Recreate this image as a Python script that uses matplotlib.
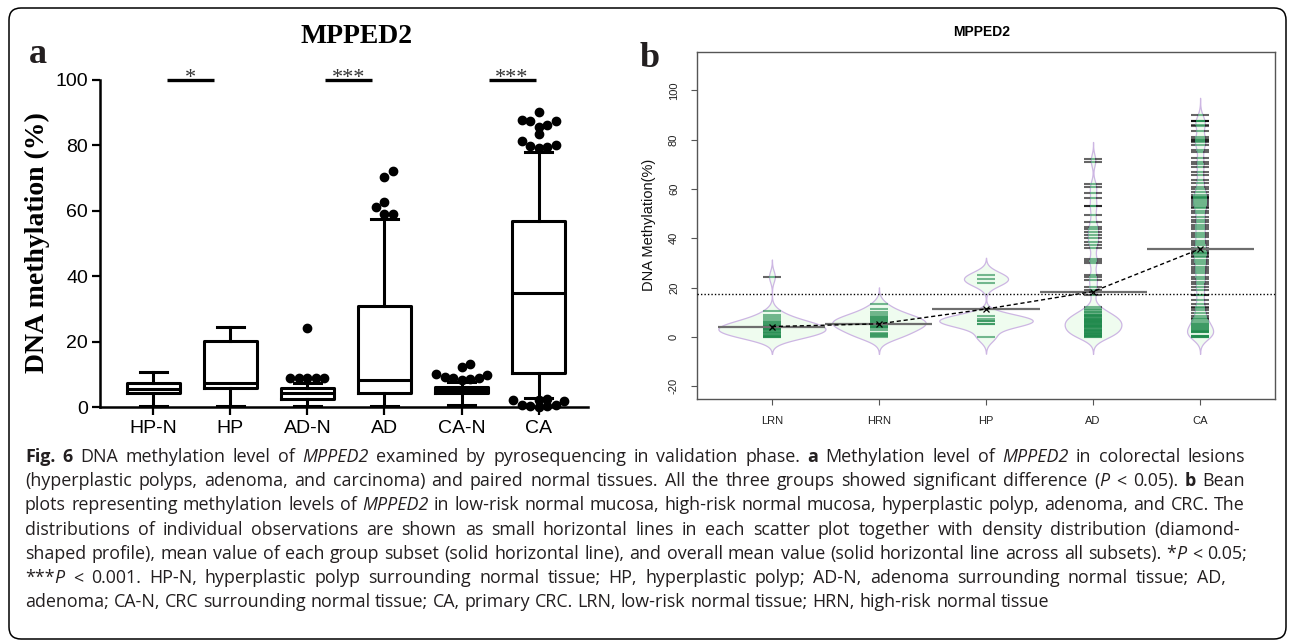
import numpy as np
import matplotlib
matplotlib.use("Agg")
import matplotlib.pyplot as plt
from matplotlib.patches import FancyBboxPatch
from matplotlib.collections import LineCollection
from matplotlib.transforms import IdentityTransform

# ---------------- Panel a data (box plots) ----------------
a_groups = ["HP-N", "HP", "AD-N", "AD", "CA-N", "CA"]
a_whislo = [0.3, 0.3, 0.3, 0.3, 0.6, 2.6]
a_q1 = [4.2, 5.9, 2.5, 4.4, 4.2, 10.3]
a_med = [5.4, 7.4, 4.2, 8.3, 5.2, 34.8]
a_q3 = [7.3, 20.3, 5.8, 30.9, 6.2, 56.8]
a_whishi = [10.8, 24.6, 7.3, 57.5, 7.6, 77.9]
a_fliers = [
    [],
    [],
    [8.8, 8.8, 8.8, 8.8, 8.8, 24.2],
    [59.1, 59.1, 61.2, 62.6, 70.2, 72.3],
    [8.4, 8.6, 8.8, 9.0, 9.1, 9.8, 10.1, 12.2, 13.2],
    [0.0, 0.2, 0.3, 0.5, 0.6, 1.9, 2.0, 2.2, 2.4,
     79.2, 79.5, 79.9, 80.1, 81.3, 83.5, 85.7, 86.1, 87.4, 87.4, 87.7, 90.1],
]
sig_labels = ["*", "***", "***"]
sig_level = 100

# ---------------- Panel b data (bean plots) ----------------
b_groups = ["LRN", "HRN", "HP", "AD", "CA"]
LRN = [0, 0, 0, 0.3, 0.5, 0.8, 1.0, 1.5, 2.0, 2.1, 2.6, 3.0, 3.1, 3.3, 3.6, 3.8,
       4.0, 4.1, 4.3, 4.6, 5.0, 5.2, 5.6, 6.1, 6.5, 7.1, 8.0, 8.9, 10.4, 24.5]
HRN = [0, 0.2, 0.6, 1.1, 1.4, 3.0, 3.6, 3.9, 4.2, 4.6, 5.0, 5.3, 5.7, 6.1, 6.4,
       6.8, 7.2, 7.7, 8.1, 8.6, 9.1, 10.0, 11.5, 13.2]
HP = [0.1, 5.3, 5.4, 6.5, 6.6, 7.4, 8.5, 21.9, 23.5, 25.2]
AD = [72.2, 71.1, 61.9, 61.0, 58.5, 56.3, 53.3, 53.0, 49.5, 46.8, 44.7, 43.7,
      42.5, 41.4, 40.0, 38.7, 37.3, 36.0, 31.6, 30.9, 30.1, 25.2, 24.2, 23.1,
      20.4, 19.1, 17.0,
      12.3, 11.4, 11.0, 10.2, 9.9, 9.4, 9.0, 8.9, 8.5, 8.3, 8.1, 7.8, 7.4, 7.3,
      6.9, 6.6, 6.4, 6.0, 5.8, 5.7, 5.4, 5.0, 4.8, 4.6, 4.5, 4.3, 4.0, 3.9, 3.5,
      3.3, 3.0, 2.8, 2.5, 2.2, 2.0, 1.7, 1.5, 1.2, 1.0, 0.8, 0.5, 0.4, 0.2, 0.0,
      0.0, 6.2, 7.0]
CA = [0.0, 0.0, 0.1, 0.2, 0.3, 0.4, 0.5, 1.8, 2.0, 2.1, 2.2, 2.4, 2.6, 3.1, 3.8,
      4.2, 4.6, 4.9, 5.3, 5.8, 6.4, 7.1, 7.7, 8.4, 9.8,
      10.8, 11.6, 12.3, 13.4, 15.0, 16.9, 17.2, 19.1, 20.3, 21.6, 22.4, 23.3,
      24.5, 26.0, 26.8, 27.7, 28.2, 29.6, 30.4, 31.1, 32.3, 32.9, 33.6, 34.2, 34.6,
      35.3, 36.0, 37.4, 38.0, 38.9, 40.4, 41.3, 42.1, 43.6, 44.7, 45.2, 46.8,
      47.3, 48.6, 50.3, 50.9, 52.2, 52.9, 53.6, 54.4, 55.0, 55.9, 56.2, 56.6, 56.8,
      57.4, 58.9, 60.2, 61.0, 62.5, 63.7, 65.7, 66.9, 68.8, 70.2, 71.1, 72.5,
      74.9, 75.9, 77.9, 79.2, 79.5, 79.9, 80.1, 81.3, 83.5, 85.7, 86.1, 87.4,
      87.4, 87.7, 90.1]
b_data = [LRN, HRN, HP, AD, CA]
b_means = [4.2, 5.3, 11.3, 18.4, 35.7]
overall_mean = 17.3

# ---------------- Caption ----------------
caption = [
    [("Fig. 6", "b"), (" DNA methylation level of ", "r"), ("MPPED2", "i"),
     (" examined by pyrosequencing in validation phase. ", "r"), ("a", "b"),
     (" Methylation level of ", "r"), ("MPPED2", "i"), (" in colorectal lesions", "r")],
    [("(hyperplastic polyps, adenoma, and carcinoma) and paired normal tissues. All the three groups showed significant difference (", "r"),
     ("P", "i"), (" < 0.05). ", "r"), ("b", "b"), (" Bean", "r")],
    [("plots representing methylation levels of ", "r"), ("MPPED2", "i"),
     (" in low-risk normal mucosa, high-risk normal mucosa, hyperplastic polyp, adenoma, and CRC. The", "r")],
    [("distributions of individual observations are shown as small horizontal lines in each scatter plot together with density distribution (diamond-", "r")],
    [("shaped profile), mean value of each group subset (solid horizontal line), and overall mean value (solid horizontal line across all subsets). *", "r"),
     ("P", "i"), (" < 0.05;", "r")],
    [("***", "r"), ("P", "i"),
     (" < 0.001. HP-N, hyperplastic polyp surrounding normal tissue; HP, hyperplastic polyp; AD-N, adenoma surrounding normal tissue; AD,", "r")],
    [("adenoma; CA-N, CRC surrounding normal tissue; CA, primary CRC. LRN, low-risk normal tissue; HRN, high-risk normal tissue", "r")],
]

W, H = 1290, 641
fig = plt.figure(figsize=(W / 100, H / 100), dpi=100)
fig.patch.set_facecolor("white")

SERIF = ["Liberation Serif", "DejaVu Serif"]
SANS = ["Liberation Sans", "DejaVu Sans"]


def fx(px):
    return px / W


def fy(py):
    return 1 - py / H


# ================= Panel a =================
ax = fig.add_axes([fx(100), fy(407), 488 / W, 327 / H])
pos_a = np.arange(1, len(a_groups) + 1)
stats = []
for i in range(len(a_groups)):
    stats.append(dict(med=a_med[i], q1=a_q1[i], q3=a_q3[i],
                      whislo=a_whislo[i], whishi=a_whishi[i], fliers=[]))
lw_box = 2.2
ax.bxp(stats, positions=pos_a, widths=0.69, showfliers=False, capwidths=0.35,
       boxprops=dict(color="black", linewidth=lw_box),
       whiskerprops=dict(color="black", linewidth=lw_box),
       capprops=dict(color="black", linewidth=lw_box),
       medianprops=dict(color="black", linewidth=lw_box))
ax.set_xlim(0.31, 6.64)
ax.set_ylim(0, 100)

# beeswarm-like spreading of outliers, derived from the values
px_x = 488 / (6.64 - 0.31)
px_y = 327 / 100.0


def swarm(pos, vals, step=8.5, mind=7.0):
    placed = []
    xs = []
    cands = [0.0] + [s * j * step for j in range(1, 30) for s in (1, -1)]
    for v in sorted(vals):
        for c in cands:
            ok = all(np.hypot(c - pxo, (v - pyv) * px_y) >= mind for pxo, pyv in placed)
            if ok:
                break
        placed.append((c, v))
        xs.append(pos + c / px_x)
    return xs, sorted(vals)


for i, fl in enumerate(a_fliers):
    if fl:
        xs, ys = swarm(pos_a[i], fl)
        ax.plot(xs, ys, "o", color="black", ms=6.0, clip_on=False, zorder=5)

# significance bars
sig_spans = [(1.18, 1.79), (3.23, 3.84), (5.35, 5.96)]
for (x0, x1), lab in zip(sig_spans, sig_labels):
    ax.plot([x0, x1], [sig_level, sig_level], color="black", lw=2.4,
            solid_capstyle="butt", clip_on=False)
    ax.text((x0 + x1) / 2, sig_level - 1.0, lab, ha="center", va="baseline",
            fontsize=16, family=SERIF, color="#333333", clip_on=False)

for s in ["top", "right"]:
    ax.spines[s].set_visible(False)
for s in ["left", "bottom"]:
    ax.spines[s].set_linewidth(1.8)
ax.set_xticks(pos_a)
ax.set_xticklabels(a_groups, family=SANS, fontsize=14)
ax.set_yticks([0, 20, 40, 60, 80, 100])
ax.set_yticklabels(["0", "20", "40", "60", "80", "100"], family=SANS, fontsize=14)
ax.tick_params(axis="both", width=1.6, length=5.5, color="black")
ax.tick_params(axis="y", pad=3)
ax.tick_params(axis="x", pad=4)

fig.text(fx(37.5), fy(243), "DNA methylation (%)", rotation=90, ha="center",
         va="center", fontsize=20, fontweight="bold", family=SERIF)
fig.text(fx(357), fy(43), "MPPED2", ha="center", va="baseline", fontsize=20,
         fontweight="bold", family=SERIF)
fig.text(fx(38), fy(63), "a", ha="center", va="baseline", fontsize=26,
         fontweight="bold", family=SERIF, color="#231f20")

# ================= Panel b =================
bx = fig.add_axes([fx(697), fy(399), 578 / W, 347 / H])
pos_b = np.arange(1, len(b_groups) + 1)
bw = 2.3
beans = []
for d in b_data:
    d = np.asarray(d, float)
    ys = np.linspace(d.min() - 3 * bw, d.max() + 3 * bw, 500)
    dens = np.exp(-0.5 * ((ys[:, None] - d[None, :]) / bw) ** 2).sum(1)
    dens /= (len(d) * bw * np.sqrt(2 * np.pi))
    beans.append((ys, dens))
kscale = 0.5 / max(b[1].max() for b in beans)

L = 0.085
for i, (d, (ys, dens)) in enumerate(zip(b_data, beans)):
    p = pos_b[i]
    w = dens * kscale
    bx.fill_betweenx(ys, p - w, p + w, facecolor="#effcef", edgecolor="#cdb6e3",
                     lw=0.9, zorder=1)
    green, dark = [], []
    for v in d:
        wv = np.interp(v, ys, w)
        if wv >= L:
            green.append([(p - L, v), (p + L, v)])
        else:
            green.append([(p - wv, v), (p + wv, v)])
            dark.append([(p - L, v), (p - wv, v)])
            dark.append([(p + wv, v), (p + L, v)])
    bx.add_collection(LineCollection(green, colors="#1f8a4c", alpha=0.6,
                                     linewidths=1.5, zorder=2))
    bx.add_collection(LineCollection(dark, colors="black", alpha=0.6,
                                     linewidths=1.5, zorder=2))

bx.hlines(b_means, pos_b - 0.5, pos_b + 0.5, color="#6e6e6e", lw=1.6, zorder=3)
bx.plot(pos_b, b_means, color="black", lw=1.0, dashes=(3, 2), zorder=4)
bx.plot(pos_b, b_means, "x", color="black", ms=4.5, mew=0.9, zorder=5)
bx.axhline(overall_mean, color="black", lw=1.0, ls=(0, (1, 1.5)), zorder=4)

bx.set_xlim(0.3, 5.7)
bx.set_ylim(-25.2, 115.6)
bx.set_xticks(pos_b)
bx.set_xticklabels(b_groups, family=SANS, fontsize=8, color="#222222")
yt = [-20, 0, 20, 40, 60, 80, 100]
bx.set_yticks(yt)
bx.set_yticklabels([str(v) for v in yt], family=SANS, fontsize=8,
                   rotation=90, va="center", color="#222222")
for s in bx.spines.values():
    s.set_color("#555555")
    s.set_linewidth(1.0)
bx.tick_params(axis="both", length=4, width=0.8, color="#555555")
bx.tick_params(axis="x", pad=8)
bx.tick_params(axis="y", pad=9)

fig.text(fx(649), fy(225), "DNA Methylation(%)", rotation=90, ha="center",
         va="center", fontsize=10.5, family=SANS, color="#111111")
fig.text(fx(982), fy(36), "MPPED2", ha="center", va="baseline", fontsize=10,
         fontweight="bold", family=SANS)
fig.text(fx(650), fy(67), "b", ha="center", va="baseline", fontsize=26,
         fontweight="bold", family=SERIF, color="#231f20")

# ================= Caption =================
CAP_FAMILY = ["Open Sans", "Noto Sans", "DejaVu Sans"]
CAP_SIZE = 12.9
styles = {"r": {}, "b": {"fontweight": "bold"}, "i": {"fontstyle": "italic"}}
renderer = fig.canvas.get_renderer()


def text_w(s, st):
    t = fig.text(0, 0, s, fontsize=CAP_SIZE, family=CAP_FAMILY, **styles[st])
    w = t.get_window_extent(renderer).width
    t.remove()
    return w


space_w = text_w("a a", "r") - text_w("aa", "r")
x_left = 25
line_right = [1245, 1245, 1245, 1240, 1247, 1226, None]
base0, line_dy = 462, 24.2
for li, segs in enumerate(caption):
    words = [[]]
    for txt, st in segs:
        parts = txt.split(" ")
        for k, part in enumerate(parts):
            if k > 0:
                words.append([])
            if part:
                words[-1].append((part, st))
    words = [wd for wd in words if wd]
    widths = [[text_w(pc, st) for pc, st in wd] for wd in words]
    total = sum(sum(ws) for ws in widths)
    ngap = len(words) - 1
    xr = line_right[li]
    if xr is not None and ngap > 0:
        gap = max((xr - x_left - total) / ngap, space_w * 0.7)
    else:
        gap = space_w
    x = x_left
    yb = base0 + li * line_dy
    for wd, ws in zip(words, widths):
        for (pc, st), wpc in zip(wd, ws):
            fig.text(fx(x), fy(yb), pc, ha="left", va="baseline",
                     fontsize=CAP_SIZE, family=CAP_FAMILY, color="#231f20",
                     **styles[st])
            x += wpc
        x += gap

# outer rounded frame
frame = FancyBboxPatch((9, 2), 1277, 631, boxstyle="round,pad=0,rounding_size=12",
                       transform=IdentityTransform(), fill=False,
                       edgecolor="black", lw=1.1)
fig.add_artist(frame)

fig.savefig("out.png", dpi=100, facecolor="white")
